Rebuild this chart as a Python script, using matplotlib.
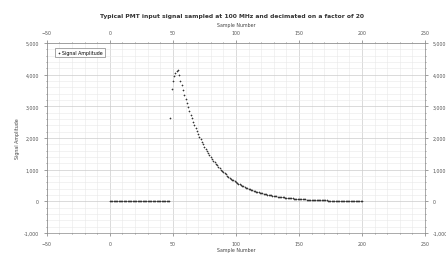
import matplotlib.pyplot as plt
from matplotlib.ticker import AutoMinorLocator, FuncFormatter

# flat baseline, fast rise, exponential-looking decay
baseline = [0] * 48
rise = [2650, 3550, 3800, 3950, 4050, 4120, 4150]
decay = [3981, 3818, 3662, 3513, 3369, 3232, 3100, 2973, 2852, 2735,
         2624, 2517, 2414, 2315, 2221, 2130, 2043, 1960, 1880, 1803,
         1729, 1659, 1591, 1526, 1464, 1404, 1347, 1292, 1239, 1188,
         1140, 1093, 1049, 1006, 965, 925, 888, 851, 817, 783,
         751, 721, 691, 663, 636, 610, 585, 561, 538, 516,
         495, 475, 456, 437, 419, 402, 386, 370, 355, 340,
         326, 313, 300, 288, 276, 265, 254, 244, 234, 224,
         215, 206, 198, 190, 182, 175, 167, 161, 154, 148,
         142, 136, 130, 125, 120, 115, 110, 106, 101, 97,
         93, 90, 86, 82, 79, 76, 73, 70, 67, 64,
         62, 59, 57, 54, 52, 50, 48, 46, 44, 42,
         41, 39, 37, 36, 34, 33, 32, 30, 29, 28,
         27, 26, 25, 24, 23, 22, 21, 20, 19, 18,
         18, 17, 16, 16, 15, 14, 14, 13, 13, 12,
         12, 11, 11, 10, 10, 10]
amplitude = baseline + rise + decay
samples = list(range(len(amplitude)))

title = "Typical PMT input signal sampled at 100 MHz and decimated on a factor of 20"

fig = plt.figure(figsize=(4.46, 2.55), dpi=100)
ax = fig.add_axes([0.105, 0.082, 0.848, 0.745])

ax.scatter(samples, amplitude, s=0.8, marker='+', color='#333333',
           linewidths=0.45, label='Signal Amplitude', zorder=3)

ax.set_xlim(-50, 250)
ax.set_ylim(-1000, 5000)
ax.set_xticks(range(-50, 251, 50))
ax.set_yticks(range(-1000, 5001, 1000))
ax.xaxis.set_minor_locator(AutoMinorLocator(5))
ax.yaxis.set_minor_locator(AutoMinorLocator(5))
ax.yaxis.set_major_formatter(FuncFormatter(lambda v, p: f"{int(v):,}"))

ax.grid(which='major', color='#cccccc', linewidth=0.5)
ax.grid(which='minor', color='#e8e8e8', linewidth=0.4)
ax.set_axisbelow(True)

fs = 3.4
ax.tick_params(which='both', labelsize=fs, colors='#555555', length=2,
               width=0.4, top=True, right=True, labeltop=True, labelright=True)
ax.tick_params(which='minor', length=1)
for s in ax.spines.values():
    s.set_color('#888888')
    s.set_linewidth(0.5)

ax.set_xlabel("Sample Number", fontsize=fs, color='#444444', labelpad=1)
ax.set_ylabel("Signal Amplitude", fontsize=fs, color='#444444', labelpad=3)
ax.text(0.5, 1.085, "Sample Number", transform=ax.transAxes, ha='center',
        va='bottom', fontsize=fs, color='#444444')
fig.text(0.52, 0.935, title, ha='center', va='center', fontsize=4.3,
         fontweight='bold', color='#333333')

leg = ax.legend(loc='upper left', bbox_to_anchor=(0.015, 0.985), fontsize=fs,
                frameon=True, fancybox=False, borderpad=0.4, handletextpad=0.3,
                markerscale=2, handlelength=0.8)
leg.get_frame().set_edgecolor('#666666')
leg.get_frame().set_linewidth(0.5)

plt.savefig('out.png', dpi=100)
plt.close()
